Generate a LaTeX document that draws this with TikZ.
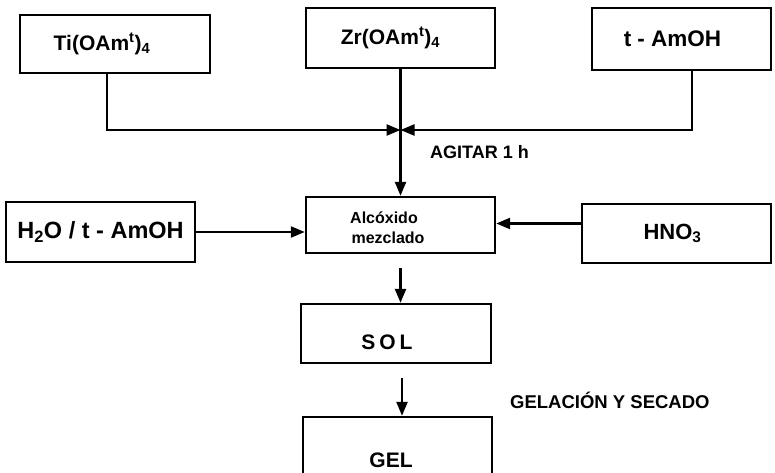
\documentclass[tikz,border=0pt]{standalone}
\usepackage{fontspec}
\setmainfont{Liberation Sans}
\usetikzlibrary{arrows.meta,calc}
\begin{document}
\begin{tikzpicture}[x=1pt,y=-1pt,
  box/.style={draw,line width=2.4pt,inner sep=0pt,font=\bfseries\fontsize{21}{24}\selectfont},
  txt/.style={inner sep=0pt,font=\bfseries\fontsize{21}{24}\selectfont},
  arr/.style={line width=2.4pt,-{Triangle[length=14pt,width=11pt]}},
  lbl/.style={font=\bfseries\fontsize{18}{20}\selectfont,anchor=west,inner sep=0pt}]
\useasboundingbox (0,0) rectangle (775,473);
\clip (0,0) rectangle (775,473);
\node[box,minimum width=190pt,minimum height=58pt] (ti) at (115,44) {\hspace*{-26pt}Ti(OAm\textsuperscript{t})\textsubscript{4}};
\node[box,minimum width=189pt,minimum height=60pt] (zr) at (400.5,38) {\hspace*{-20pt}Zr(OAm\textsuperscript{t})\textsubscript{4}};
\node[box,minimum width=179pt,minimum height=62pt,font=\bfseries\fontsize{22.5}{24}\selectfont] (tam) at (681.5,39) {\hspace*{-18pt}t - AmOH};
\node[box,minimum width=189pt,minimum height=60pt,font=\bfseries\fontsize{23.5}{26}\selectfont] (h2o) at (100.5,232) {H\textsubscript{2}O / t - AmOH};
\node[box,minimum width=189pt,minimum height=56pt] (alc) at (400.5,225) {};
\node[txt,font=\bfseries\fontsize{16}{16}\selectfont] (alct) at (384,218) {Alcóxido};
\node[txt,font=\bfseries\fontsize{16}{16}\selectfont] (alcm) at (388,237.5) {mezclado};
\node[box,minimum width=189pt,minimum height=59pt,font=\bfseries\fontsize{22}{24}\selectfont] (hno) at (676.5,233.5) {\hspace*{-8pt}HNO\textsubscript{3}};
\node[box,minimum width=190pt,minimum height=59pt] (sol) at (396,333.5) {};
\node[txt] (solt) at (387,342) {S\hspace{4pt}O\hspace{4pt}L};
\node[box,minimum width=189pt,minimum height=60pt] (gel) at (397.5,447) {};
\node[txt] (gelt) at (391,460) {GEL};
\coordinate (j) at (400.5,130);
\node[lbl] (agitar) at (430,152) {AGITAR 1 h};
\node[lbl,font=\bfseries\fontsize{18.5}{20}\selectfont] (gelac) at (510,400) {GELACIÓN Y SECADO};
\draw[arr] ([xshift=-8pt]ti.south) |- (j);
\draw[arr] ([xshift=10.5pt]tam.south) |- (j);
\draw[arr] (zr.south) -- (alc.north);
\draw[arr] (h2o.east) -- (h2o.east -| alc.west);
\draw[arr] ([yshift=10pt]hno.west) -- ([yshift=10pt]hno.west -| alc.east);
\draw[arr] ([yshift=-14pt]alc.south) -- (alc.south |- sol.north);
\draw[arr] ([yshift=-14pt,xshift=6pt]sol.south) -- ([xshift=6pt]sol.south |- gel.north);
\end{tikzpicture}
\end{document}
